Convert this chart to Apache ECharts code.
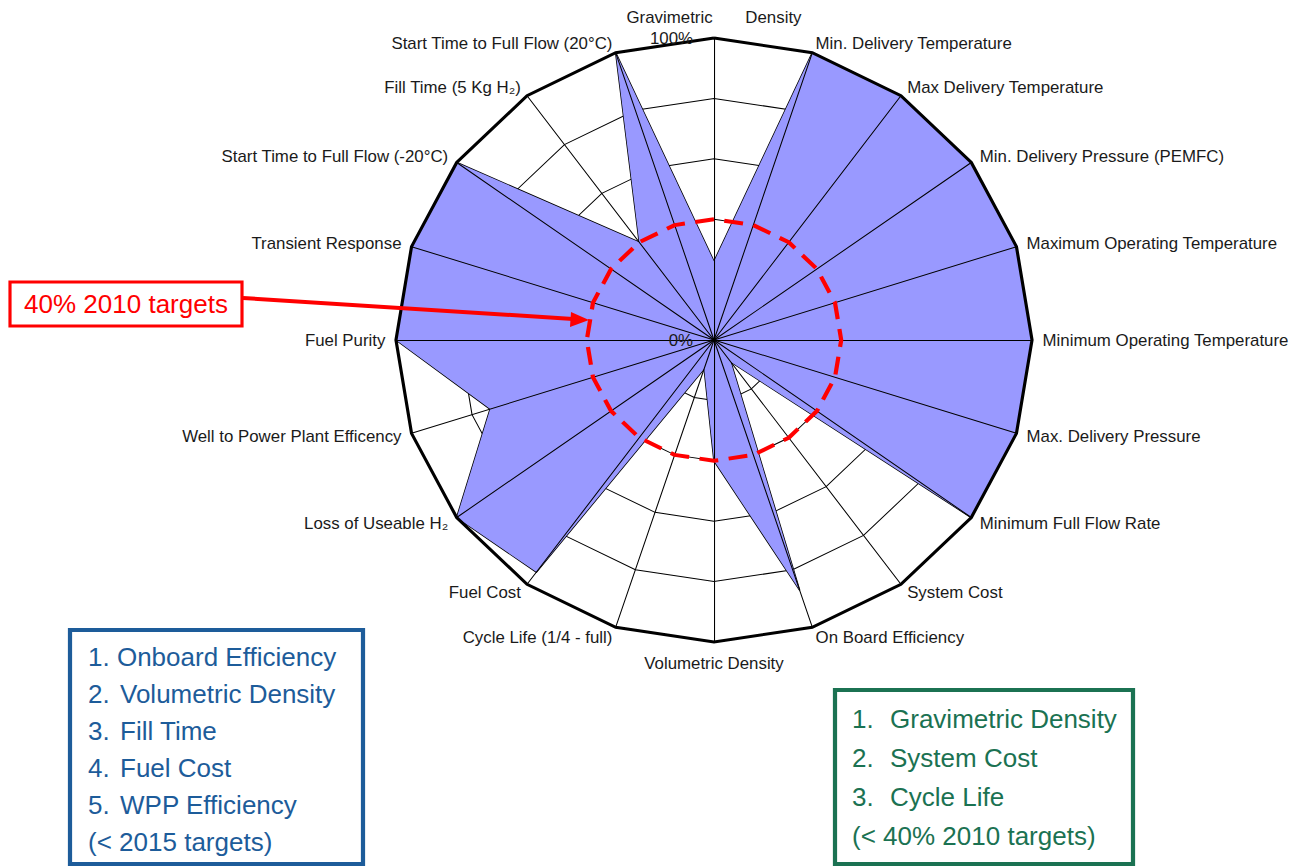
<!DOCTYPE html>
<html>
<head>
<meta charset="utf-8">
<title>Hydrogen storage targets radar</title>
<script src="https://cdn.jsdelivr.net/npm/echarts@6/dist/echarts.min.js"></script>
<style>
  html, body { margin: 0; padding: 0; background: #fff; overflow: hidden; }
  /* the original picture is stretched a little sideways */
  #main { width: 1243px; height: 867px; transform: scaleX(1.0531); transform-origin: 0 0; }
</style>
</head>
<body>
<div id="main"></div>
<script>
// categories, clockwise from the top
var categories = [
    'Gravimetric Density', 'Min. Delivery Temperature', 'Max Delivery Temperature',
    'Min. Delivery Pressure (PEMFC)', 'Maximum Operating Temperature', 'Minimum Operating Temperature',
    'Max. Delivery Pressure', 'Minimum Full Flow Rate', 'System Cost', 'On Board Efficiency',
    'Volumetric Density', 'Cycle Life (1/4 - full)', 'Fuel Cost', 'Loss of Useable H\u2082',
    'Well to Power Plant Efficency', 'Fuel Purity', 'Transient Response',
    'Start Time to Full Flow (-20\u00b0C)', 'Fill Time (5 Kg H\u2082)', 'Start Time to Full Flow (20\u00b0C)'
];
// % of target reached
var statusValues = [26, 100, 100, 100, 100, 100, 100, 100, 9, 87, 40, 10, 95, 100, 74, 100, 100, 100, 40, 100];
// 40% of 2010 targets
var target2010 = [40, 40, 40, 40, 40, 40, 40, 40, 40, 40, 40, 40, 40, 40, 40, 40, 40, 40, 40, 40];

var blueList = ['1. Onboard Efficiency', 'Volumetric Density', 'Fill Time', 'Fuel Cost', 'WPP Efficiency'];
var blueNote = '(< 2015 targets)';
var greenList = ['Gravimetric Density', 'System Cost', 'Cycle Life'];
var greenNote = '(< 40% 2010 targets)';

// echarts radar runs counter-clockwise, reference runs clockwise
function ccw(arr) {
    return [arr[0]].concat(arr.slice(1).reverse());
}

var indicators = ccw(categories).map(function(n) {
    return { name: n, max: 100, min: 0 };
});

var S = 1.0531;              // same as the css stretch
function sx(v) { return v / S; }

var font = '"Liberation Sans", Arial, sans-serif';
var blue = '#1d5c9a';
var green = '#1b7252';
var red = '#ff0000';
var cx = sx(714), cy = 340, R = 302;

// plain text that should not look stretched
function flatText(x, y, text, size, color, align) {
    return {
        type: 'text', x: sx(x), y: y, scaleX: 1 / S, z: 11,
        style: { text: text, font: size + 'px ' + font, fill: color, textAlign: align || 'left', textVerticalAlign: 'middle' }
    };
}

var graphics = [
    { type: 'text', x: sx(693), y: 38, z: 10, style: { text: '100%', font: '16px ' + font, fill: '#1a1a1a', textAlign: 'right', textVerticalAlign: 'middle' } },
    { type: 'text', x: sx(693), y: cy, z: 10, style: { text: '0%', font: '16px ' + font, fill: '#1a1a1a', textAlign: 'right', textVerticalAlign: 'middle' } },
    // red note + arrow
    { type: 'rect', shape: { x: sx(10), y: 282, width: sx(232), height: 44 }, style: { fill: '#fff', stroke: red, lineWidth: 3 }, z: 10 },
    flatText(126, 304, '40% 2010 targets', 26, red, 'center'),
    { type: 'line', shape: { x1: sx(243), y1: 298, x2: sx(573), y2: 319 }, style: { stroke: red, lineWidth: 4 }, z: 10 },
    { type: 'polygon', shape: { points: [[sx(589), 320], [sx(571), 312], [sx(570), 327]] }, style: { fill: red }, z: 10 },
    // boxes
    { type: 'rect', shape: { x: sx(70), y: 630, width: sx(293), height: 234 }, style: { fill: 'none', stroke: blue, lineWidth: 4 }, z: 10 },
    { type: 'rect', shape: { x: sx(835), y: 690, width: sx(298), height: 174 }, style: { fill: 'none', stroke: green, lineWidth: 4 }, z: 10 }
];

blueList.forEach(function(t, i) {
    var y = 657 + i * 37;
    if (i === 0) {
        graphics.push(flatText(88, y, t, 26, blue));
    } else {
        graphics.push(flatText(88, y, (i + 1) + '.', 26, blue));
        graphics.push(flatText(120, y, t, 26, blue));
    }
});
graphics.push(flatText(88, 657 + 5 * 37, blueNote, 26, blue));

greenList.forEach(function(t, i) {
    var y = 719 + i * 39;
    graphics.push(flatText(852, y, (i + 1) + '.', 26, green));
    graphics.push(flatText(890, y, t, 26, green));
});
graphics.push(flatText(852, 719 + 3 * 39, greenNote, 26, green));

var myChart = echarts.init(document.getElementById('main'), null, { renderer: 'svg' });

var option = {
    backgroundColor: '#fff',
    animation: false,
    radar: [{
        // rings + names, under the filled area
        center: [cx, cy],
        radius: R,
        startAngle: 90,
        shape: 'polygon',
        splitNumber: 5,
        indicator: indicators,
        z: 0,
        nameGap: 10,
        axisName: {
            color: '#1a1a1a',
            fontSize: 16,
            fontFamily: font,
            lineHeight: 22,
            verticalAlign: 'middle',
            formatter: function(name) {
                if (name === 'Gravimetric Density') return 'Gravimetric       Density\n ';
                if (name === 'Volumetric Density') return ' \n' + name;
                return name;
            }
        },
        axisLine: { show: false },
        axisTick: { show: false },
        axisLabel: { show: false },
        splitArea: { show: false },
        splitLine: { lineStyle: { color: '#000', width: 1 } }
    }, {
        // spokes + thick outline, above the filled area
        center: [cx, cy],
        radius: R,
        startAngle: 90,
        shape: 'polygon',
        splitNumber: 5,
        indicator: indicators,
        z: 3,
        axisName: { show: false },
        axisLine: { show: true, lineStyle: { color: '#000', width: 1 } },
        axisTick: { show: false },
        axisLabel: { show: false },
        splitArea: { show: false },
        splitLine: {
            lineStyle: {
                color: ['rgba(0,0,0,0)', 'rgba(0,0,0,0)', 'rgba(0,0,0,0)', 'rgba(0,0,0,0)', 'rgba(0,0,0,0)', '#000'],
                width: 3
            }
        }
    }],
    series: [{
        type: 'radar',
        radarIndex: 0,
        z: 2,
        symbol: 'none',
        lineStyle: { color: '#000', width: 1.5 },
        areaStyle: { color: '#9999ff', opacity: 1 },
        data: [{ name: 'Status', value: ccw(statusValues) }]
    }, {
        type: 'radar',
        radarIndex: 1,
        z: 5,
        symbol: 'none',
        lineStyle: { color: red, width: 4, type: [18, 10] },
        data: [{ name: '40% 2010 targets', value: ccw(target2010) }]
    }],
    graphic: graphics
};

myChart.setOption(option);
</script>
</body>
</html>
